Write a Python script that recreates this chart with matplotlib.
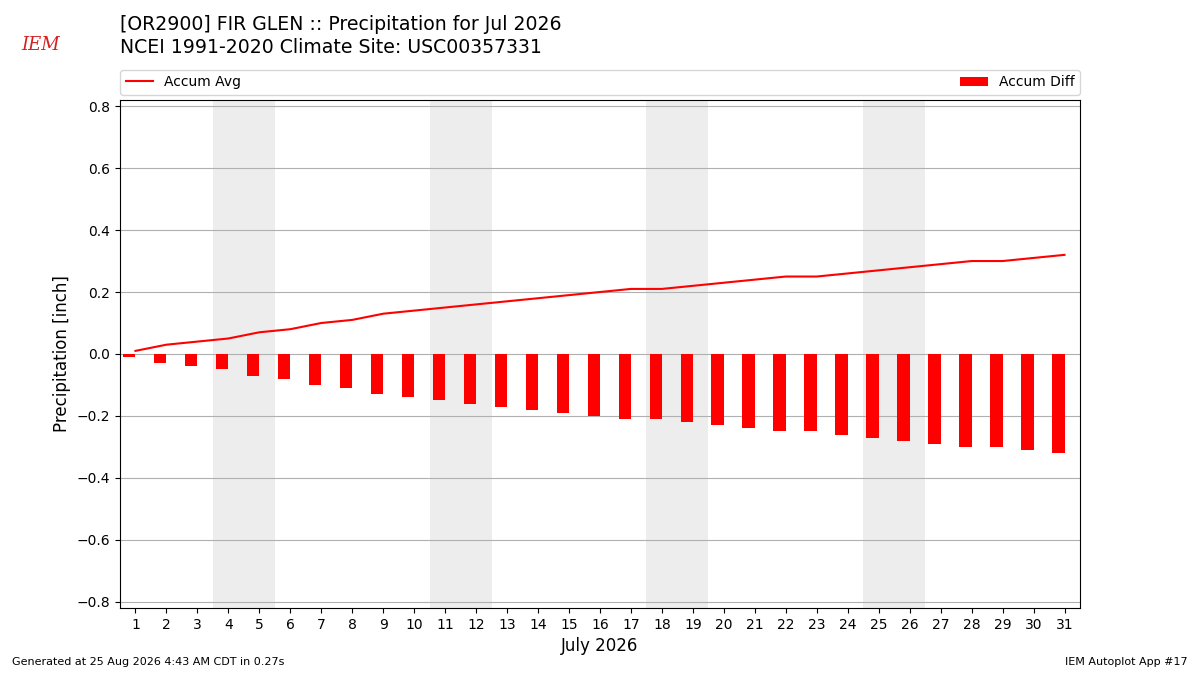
import matplotlib
matplotlib.use("Agg")
import matplotlib.pyplot as plt
import numpy as np

days = list(range(1, 32))
accum_avg = [0.01, 0.03, 0.04, 0.05, 0.07, 0.08, 0.10, 0.11, 0.13, 0.14,
             0.15, 0.16, 0.17, 0.18, 0.19, 0.20, 0.21, 0.21, 0.22, 0.23,
             0.24, 0.25, 0.25, 0.26, 0.27, 0.28, 0.29, 0.30, 0.30, 0.31, 0.32]
accum_diff = [-0.01, -0.03, -0.04, -0.05, -0.07, -0.08, -0.10, -0.11, -0.13, -0.14,
              -0.15, -0.16, -0.17, -0.18, -0.19, -0.20, -0.21, -0.21, -0.22, -0.23,
              -0.24, -0.25, -0.25, -0.26, -0.27, -0.28, -0.29, -0.30, -0.30, -0.31, -0.32]
weekends = [(4, 5), (11, 12), (18, 19), (25, 26)]

title_lines = ["[OR2900] FIR GLEN :: Precipitation for Jul 2026",
               "NCEI 1991-2020 Climate Site: USC00357331"]

fig = plt.figure(figsize=(12, 6.75), dpi=100)
ax = fig.add_axes([0.1, 0.0993, 0.8, 0.7526])

for s, e in weekends:
    ax.axvspan(s - 0.5, e + 0.5, color="#ededed", zorder=0, lw=0)

ax.bar(days, accum_diff, width=-0.4, align="edge", color="red",
       label="Accum Diff", zorder=3)
ax.plot(days, accum_avg, color="red", lw=1.5, label="Accum Avg", zorder=4)

ax.set_xlim(0.5, 31.5)
ax.set_ylim(-0.82, 0.82)
ax.set_xticks(days)
ax.set_yticks(np.arange(-0.8, 0.81, 0.2))
ax.yaxis.grid(True, color="#b0b0b0", lw=0.8, zorder=1)
ax.set_axisbelow(True)
ax.set_ylabel("Precipitation [inch]", fontsize=12)
ax.set_xlabel("July 2026", fontsize=12)
ax.tick_params(labelsize=10)

ax.legend(loc="lower left", bbox_to_anchor=(0, 1.01, 1, 0.05), ncol=2,
          mode="expand", borderaxespad=0, fontsize=10)

fig.text(0.1, 0.963, title_lines[0], fontsize=13.6, va="center", ha="left")
fig.text(0.1, 0.929, title_lines[1], fontsize=13.6, va="center", ha="left")

fig.text(0.018, 0.933, "IEM", fontsize=13, color="#d42020", family="DejaVu Serif",
         style="italic", ha="left", va="center")

fig.text(0.01, 0.015, "Generated at 25 Aug 2026 4:43 AM CDT in 0.27s", fontsize=8, ha="left")
fig.text(0.99, 0.015, "IEM Autoplot App #17", fontsize=8, ha="right")

fig.savefig("out.png", dpi=100)
